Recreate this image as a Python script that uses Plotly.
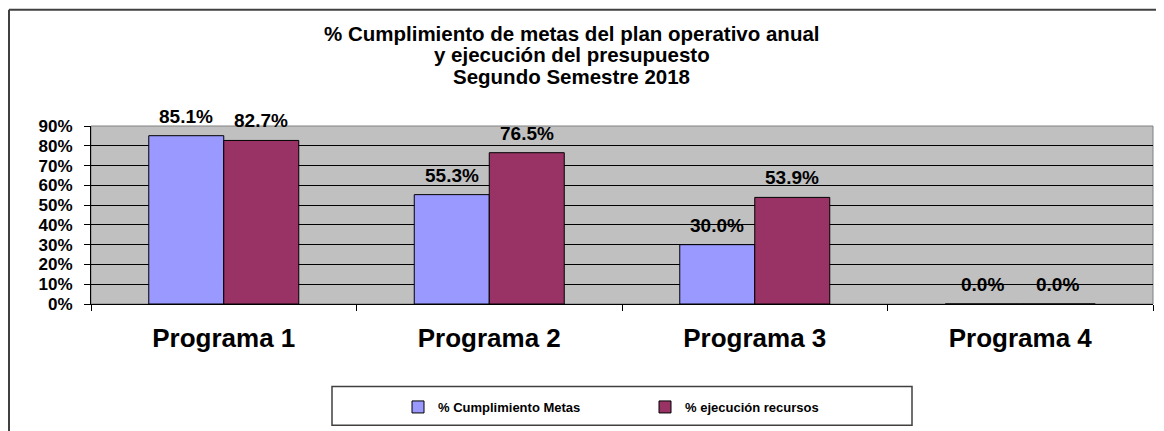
import plotly.graph_objects as go

# data
programas = ['Programa 1', 'Programa 2', 'Programa 3', 'Programa 4']
cumplimiento_metas = [0.851, 0.553, 0.300, 0.0]
ejecucion_recursos = [0.827, 0.765, 0.539, 0.0]
y_ticks = [0, 0.1, 0.2, 0.3, 0.4, 0.5, 0.6, 0.7, 0.8, 0.9]
y_tick_labels = ['0%', '10%', '20%', '30%', '40%', '50%', '60%', '70%', '80%', '90%']

title_lines = ['% Cumplimiento de metas del plan operativo anual',
               'y ejecución del presupuesto',
               'Segundo Semestre 2018']

# page body has an 8px margin, so the figure is placed at (8, 8) in the window
OFF = 8
W, H = 1164 - OFF, 431 - OFF
# plot area in window pixels: x 91..1153, y 126..305
L, R, T, B = 91 - OFF, W - (1153 - OFF), 126 - OFF, H - (305 - OFF)
PW, PH = W - L - R, H - T - B
FONT = 'Liberation Sans, Arial, sans-serif'


def px_x(x):
    # window pixel -> paper x
    return (x - OFF - L) / PW


def px_y(y):
    # window pixel -> paper y
    return (H - B - (y - OFF)) / PH


bar1 = go.Bar(x=programas, y=cumplimiento_metas,
              name='% Cumplimiento Metas',
              marker=dict(color='#9999FF', line=dict(color='black', width=1)))
bar2 = go.Bar(x=programas, y=ejecucion_recursos,
              name='% ejecución recursos',
              marker=dict(color='#993366', line=dict(color='black', width=1)))

fig = go.Figure(data=[bar1, bar2])

BARGAP = 0.435
half = PW / 4 * (1 - BARGAP) / 4  # centre of each bar from the category centre

# data labels above each bar
annotations = []
for shift, values in ((-half, cumplimiento_metas), (half, ejecucion_recursos)):
    for p, v in zip(programas, values):
        annotations.append(dict(
            x=p, y=v, xref='x', yref='y', text=f'{v * 100:.1f}%',
            showarrow=False, xshift=shift, yshift=7, yanchor='bottom',
            font=dict(family=FONT, size=19, color='black', weight='bold')))

# chart title, one line per annotation to keep Excel's tight line spacing
for i, line in enumerate(title_lines):
    annotations.append(dict(
        text=line, xref='paper', yref='paper',
        x=px_x(571.5), y=px_y(33 + 21.5 * i), xanchor='center', yanchor='middle',
        showarrow=False,
        font=dict(family=FONT, size=20.5, color='black', weight='bold')))

shapes = [
    # plot area outline
    dict(type='rect', xref='paper', yref='paper', x0=0, x1=1, y0=0, y1=1,
         line=dict(color='#808080', width=1), layer='below'),
    # outer chart border (left and top edges visible)
    dict(type='line', xref='paper', yref='paper', x0=px_x(OFF + 1), x1=px_x(OFF + 1),
         y0=px_y(OFF + 1), y1=px_y(445), line=dict(color='#404040', width=2)),
    dict(type='line', xref='paper', yref='paper', x0=px_x(OFF + 1), x1=px_x(1180),
         y0=px_y(OFF + 1), y1=px_y(OFF + 1), line=dict(color='#404040', width=2)),
    # legend box
    dict(type='rect', xref='paper', yref='paper', x0=px_x(332), x1=px_x(912),
         y0=px_y(388), y1=px_y(427), line=dict(color='#404040', width=1.5),
         fillcolor='white', layer='below'),
]

fig.update_layout(
    width=W, height=H,
    margin=dict(l=L, r=R, t=T, b=B),
    paper_bgcolor='white',
    plot_bgcolor='#C0C0C0',
    barmode='group',
    bargap=BARGAP,
    bargroupgap=0,
    xaxis=dict(
        tickson='boundaries', ticks='outside', ticklen=6, tickcolor='black',
        showline=True, linecolor='black', linewidth=1,
        showgrid=False,
        ticklabelstandoff=11,
        tickfont=dict(family=FONT, size=26, color='black', weight='bold')),
    yaxis=dict(
        range=[0, 0.9], tickvals=y_ticks, ticktext=y_tick_labels,
        ticks='outside', ticklen=6, tickcolor='black',
        showline=True, linecolor='black', linewidth=1,
        showgrid=True, gridcolor='black', gridwidth=1,
        zeroline=False,
        ticklabelstandoff=8,
        tickfont=dict(family=FONT, size=17, color='black', weight='bold')),
    legend=dict(
        orientation='h', x=px_x(398), xanchor='left',
        y=px_y(407), yanchor='middle',
        bgcolor='rgba(0,0,0,0)', entrywidth=202, entrywidthmode='pixels',
        font=dict(family=FONT, size=13, color='black', weight='bold')),
    annotations=annotations,
    shapes=shapes,
    showlegend=True,
)

fig.write_html('out.html')
